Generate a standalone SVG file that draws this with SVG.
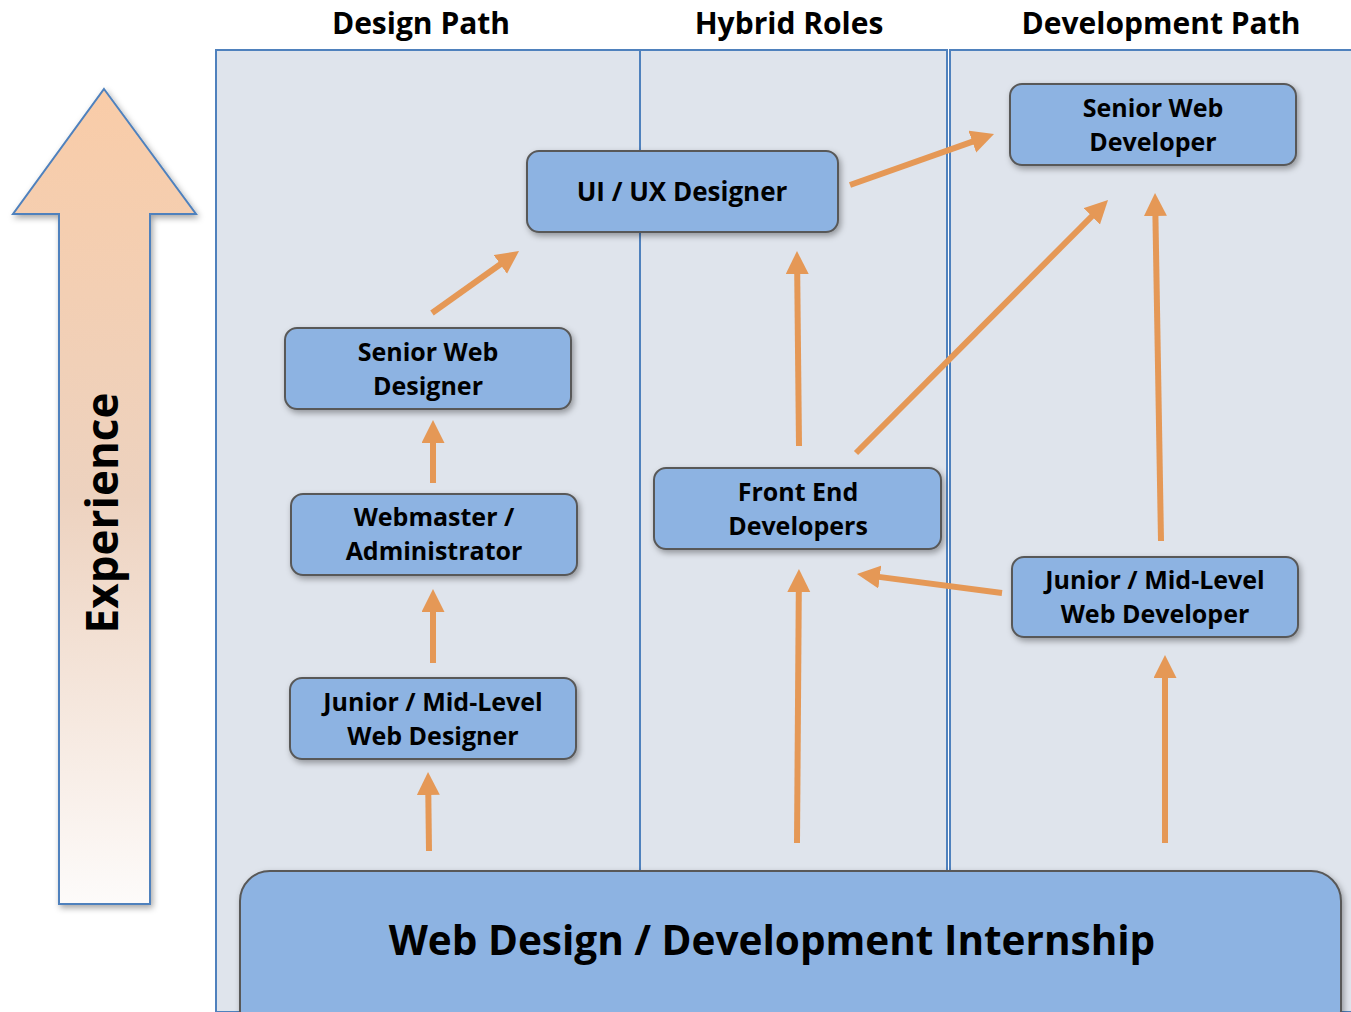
<svg xmlns="http://www.w3.org/2000/svg" width="1351" height="1012" viewBox="0 0 1351 1012">
<defs>
<style>
.panel{fill:#DFE4EC;stroke:#4F81BD;stroke-width:2}
.node{fill:#8DB3E2;stroke:#595959;stroke-width:2;filter:url(#sh)}
.t{font-family:"Open Sans","Noto Sans","DejaVu Sans",sans-serif;font-weight:bold;fill:#000;text-anchor:middle}
.nt{font-size:25px}
.hd{font-size:30px}
.con{stroke:#E59856;stroke-width:6;fill:none;marker-end:url(#ah)}
</style>
<filter id="sh" x="-10%" y="-20%" width="120%" height="150%">
<feDropShadow dx="2" dy="3" stdDeviation="3" flood-color="#000" flood-opacity="0.35"/>
</filter>
<linearGradient id="ag" x1="0" y1="0" x2="0" y2="1">
<stop offset="0" stop-color="#F9CCA8"/>
<stop offset="0.5" stop-color="#EDD2BF"/>
<stop offset="1" stop-color="#FDFBFA"/>
</linearGradient>
<marker id="ah" markerUnits="userSpaceOnUse" markerWidth="24" markerHeight="24" refX="1" refY="11.5" orient="auto">
<path d="M0,0 L23,11.5 L0,23 z" fill="#E59856"/>
</marker>
</defs>

<g id="experience">
<path d="M104,89 L196,214 L150,214 L150,904 L59,904 L59,214 L13,214 Z" fill="url(#ag)" stroke="#4F81BD" stroke-width="2" filter="url(#sh)"/>
<text class="t" font-size="44" transform="translate(118,513) rotate(-90)">Experience</text>
</g>

<g id="panels">
<rect id="design-panel" class="panel" x="216" y="50" width="424" height="962"/>
<rect id="hybrid-panel" class="panel" x="640" y="50" width="307" height="962"/>
<rect id="dev-panel" class="panel" x="950" y="50" width="403" height="962"/>
</g>

<g id="headers">
<text class="t hd" x="421" y="34">Design Path</text>
<text class="t hd" x="789" y="34">Hybrid Roles</text>
<text class="t hd" x="1161" y="34">Development Path</text>
</g>

<g id="connectors">
<line class="con" x1="429" y1="851" x2="428.3" y2="794"/>
<line class="con" x1="433" y1="663" x2="433" y2="611"/>
<line class="con" x1="433" y1="483" x2="433" y2="442"/>
<line class="con" x1="432" y1="313" x2="501.1" y2="263.8"/>
<line class="con" x1="850" y1="185" x2="973.3" y2="141.3"/>
<line class="con" x1="799" y1="446" x2="797.2" y2="273"/>
<line class="con" x1="797" y1="843" x2="798.8" y2="591"/>
<line class="con" x1="856" y1="453" x2="1092.5" y2="215.6"/>
<line class="con" x1="1002" y1="593" x2="878.8" y2="576.9"/>
<line class="con" x1="1161" y1="541" x2="1155.4" y2="215"/>
<line class="con" x1="1165" y1="843" x2="1165" y2="677"/>
</g>

<g id="ui-ux-designer">
<rect class="node" x="527" y="151" width="311" height="81" rx="12"/>
<text class="t" font-size="26" x="682" y="201">UI / UX Designer</text>
</g>
<g id="senior-web-designer">
<rect class="node" x="285" y="328" width="286" height="81" rx="12"/>
<text class="t nt"><tspan x="428" y="361">Senior Web</tspan><tspan x="428" dy="34">Designer</tspan></text>
</g>
<g id="webmaster">
<rect class="node" x="291" y="494" width="286" height="81" rx="12"/>
<text class="t nt"><tspan x="434" y="526">Webmaster /</tspan><tspan x="434" dy="34">Administrator</tspan></text>
</g>
<g id="junior-web-designer">
<rect class="node" x="290" y="678" width="286" height="81" rx="12"/>
<text class="t nt"><tspan x="433" y="711">Junior / Mid-Level</tspan><tspan x="433" dy="34">Web Designer</tspan></text>
</g>
<g id="front-end-developers">
<rect class="node" x="654" y="468" width="287" height="81" rx="12"/>
<text class="t nt"><tspan x="798" y="501">Front End</tspan><tspan x="798" dy="34">Developers</tspan></text>
</g>
<g id="senior-web-developer">
<rect class="node" x="1010" y="84" width="286" height="81" rx="12"/>
<text class="t nt"><tspan x="1153" y="117">Senior Web</tspan><tspan x="1153" dy="34">Developer</tspan></text>
</g>
<g id="junior-web-developer">
<rect class="node" x="1012" y="557" width="286" height="80" rx="12"/>
<text class="t nt"><tspan x="1155" y="589">Junior / Mid-Level</tspan><tspan x="1155" dy="34">Web Developer</tspan></text>
</g>
<g id="internship">
<rect class="node" x="240" y="871" width="1101" height="170" rx="30"/>
<text class="t" font-size="40.5" x="772" y="955">Web Design / Development Internship</text>
</g>
</svg>
